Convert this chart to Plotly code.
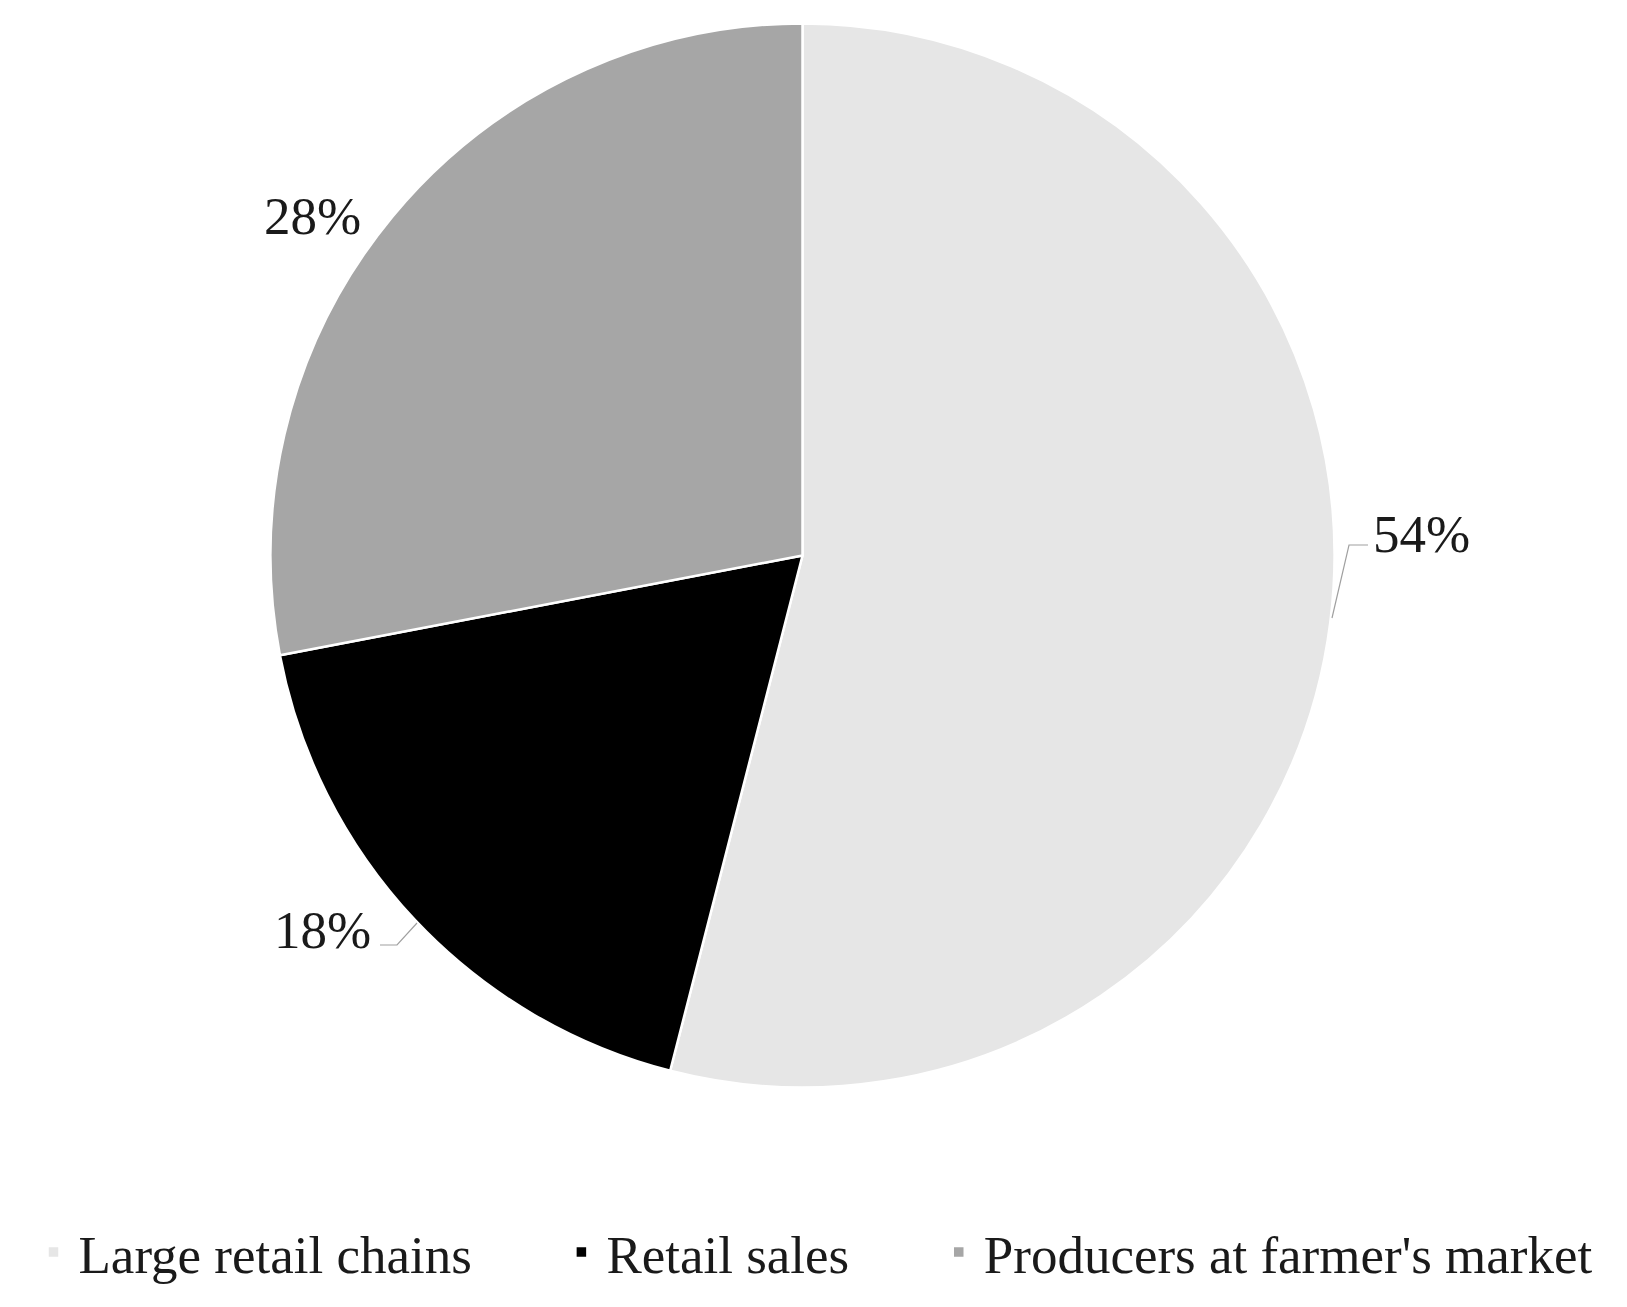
import plotly.graph_objects as go

W, H = 1627, 1307

categories = ["Large retail chains", "Retail sales", "Producers at farmer's market"]
values = [54, 18, 28]
pct_labels = ["54%", "18%", "28%"]
colors = ["#e6e6e6", "#000000", "#a6a6a6"]

FONT = "Liberation Serif"

def px(x):
    return x / W

def py(y):
    return 1 - y / H

# pie placement (page layout)
cx, cy, r = 802.5, 555.5, 532
PAD = "\u00a0" * 6
legend_labels = [c + PAD for c in categories[:-1]] + [categories[-1]]

fig = go.Figure(go.Pie(
    labels=legend_labels,
    values=values,
    sort=False,
    direction="clockwise",
    rotation=0,
    marker=dict(colors=colors, line=dict(color="white", width=2.5)),
    textinfo="none",
    hoverinfo="label+percent",
    domain=dict(x=[px(cx - r), px(cx + r)], y=[py(cy + r), py(cy - r)]),
))

# percentage labels
label_pos = [(1421, 534), (322, 930), (312, 216)]
for txt, (x, y) in zip(pct_labels, label_pos):
    fig.add_annotation(x=px(x), y=py(y), xref="paper", yref="paper",
                       xanchor="center", yanchor="middle",
                       text=txt, showarrow=False,
                       font=dict(family=FONT, size=53, color="#1a1a1a"))

# leader lines
leaders = [
    [(1332, 618), (1349, 545), (1368, 545)],
    [(417, 923), (397, 945), (380, 945)],
]
for pts in leaders:
    path = "M " + " L ".join(f"{px(x)},{py(y)}" for x, y in pts)
    fig.add_shape(type="path", path=path, xref="paper", yref="paper",
                  line=dict(color="#a0a0a0", width=1.2))

fig.update_layout(
    width=W, height=H,
    margin=dict(l=0, r=0, t=0, b=0),
    paper_bgcolor="white",
    plot_bgcolor="white",
    showlegend=True,
    legend=dict(
        orientation="h",
        x=0.5, xanchor="center",
        y=py(1252), yanchor="middle",
        font=dict(family=FONT, size=53, color="#1a1a1a"),
        traceorder="normal",
        itemwidth=40,
    ),
)

fig.write_html("out.html", config={"displayModeBar": False},
               post_script="document.body.style.margin='0px';")
